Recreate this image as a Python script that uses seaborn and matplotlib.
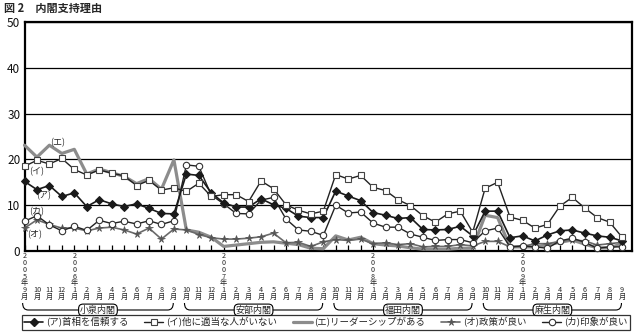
import matplotlib
matplotlib.use("Agg")
import numpy as np
import pandas as pd
import matplotlib.pyplot as plt
import seaborn as sns
from matplotlib.lines import Line2D
from matplotlib.path import Path
from matplotlib.patches import PathPatch
from matplotlib import transforms

# ---- data: monthly survey, 2005/9 - 2009/9 (percent) ----
start_year = 2005
months = [9, 10, 11, 12] + list(range(1, 13)) * 3 + list(range(1, 10))

trust_pm = [15.2, 13.4, 14.3, 11.9, 12.7, 9.7, 11.2, 10.3, 9.7, 10.3, 9.3, 8.2, 8.1,
            16.8, 16.5, 12.7, 10.5, 9.6, 9.6, 11.4, 10.1, 9.3, 7.6, 7.3, 7.3,
            13.1, 12.0, 11.0, 8.4, 7.8, 7.1, 7.3, 4.7, 4.6, 4.7, 5.4, 3.3,
            8.7, 8.7, 2.9, 3.3, 2.2, 3.5, 4.4, 4.6, 3.9, 3.3, 3.0, 2.2]
no_one_else = [18.5, 19.8, 19.0, 20.2, 17.8, 16.6, 17.7, 17.0, 16.4, 14.3, 15.4, 13.3, 13.8,
               13.0, 14.8, 11.9, 12.3, 12.3, 10.8, 15.3, 13.6, 10.1, 8.9, 8.1, 8.7,
               16.7, 15.7, 16.5, 13.9, 13.2, 11.2, 9.9, 7.7, 6.3, 8.1, 8.7, 4.1,
               13.7, 15.0, 7.4, 6.7, 5.0, 5.8, 9.8, 11.7, 9.4, 7.3, 6.3, 3.0]
leadership = [23.1, 20.5, 23.1, 21.3, 22.2, 16.8, 17.9, 17.1, 16.3, 14.7, 15.8, 13.5, 19.9,
              4.6, 4.1, 3.0, 1.0, 1.3, 1.6, 1.9, 2.0, 1.7, 1.4, 0.6, 0.5,
              3.3, 2.4, 3.0, 1.6, 1.3, 1.1, 0.7, 0.4, 0.4, 0.4, 0.6, 0.6,
              7.8, 7.3, 0.9, 0.9, 0.9, 1.3, 1.9, 2.4, 1.5, 0.7, 0.7, 1.6]
good_policy = [5.0, 6.8, 5.8, 5.0, 5.0, 4.4, 5.0, 5.2, 4.6, 3.7, 5.0, 2.6, 4.8,
               4.6, 3.6, 2.9, 2.6, 2.6, 2.8, 3.1, 3.9, 1.8, 1.9, 1.0, 2.0,
               2.5, 2.3, 2.6, 1.6, 1.8, 1.4, 1.6, 0.9, 1.0, 1.0, 1.4, 1.1,
               2.1, 2.1, 0.9, 1.0, 1.6, 1.6, 2.1, 2.4, 2.2, 1.3, 1.6, 1.9]
good_image = [6.5, 7.7, 5.7, 4.4, 5.4, 4.5, 6.7, 6.0, 6.5, 5.9, 6.6, 5.8, 6.6,
              18.8, 18.5, 12.2, 10.3, 8.2, 8.1, 11.1, 11.7, 7.0, 4.6, 4.3, 3.4,
              10.0, 8.3, 8.5, 6.1, 5.2, 5.2, 3.7, 3.0, 2.3, 2.5, 2.5, 1.8,
              4.4, 5.0, 0.9, 1.1, 0.9, 0.6, 2.2, 2.8, 1.9, 0.6, 0.9, 0.9]

series_labels = ["(ア)首相を信頼する", "(イ)他に適当な人がいない", "(エ)リーダーシップがある",
                 "(オ)政策が良い", "(カ)印象が良い"]
cabinets = ["小泉内閣", "安部内閣", "福田内閣", "麻生内閣"]
cabinet_start = [0, 13, 25, 37]
cabinet_end = [12, 24, 36, 48]

# ---- figure ----
sns.set_style("white")
plt.rcParams["font.family"] = ["Noto Sans CJK JP", "DejaVu Sans"]

W, H = 641, 336
fig = plt.figure(figsize=(W / 100, H / 100), dpi=100)
ax = fig.add_axes([24.5 / W, 1 - 251 / H, (632 - 24.5) / W, (251 - 22) / H])

idx = np.arange(len(months))
df = pd.DataFrame({"m": idx, "ア": trust_pm, "イ": no_one_else, "エ": leadership,
                   "オ": good_policy, "カ": good_image})

styles = {
    "エ": dict(color="#8c8c8c", lw=2.3, marker=None),
    "オ": dict(color="#6a6a6a", lw=1.2, marker="*", markersize=5.5,
              markerfacecolor="#555555", markeredgecolor="#555555", markeredgewidth=0.5),
    "カ": dict(color="#222222", lw=1.0, marker="o", markersize=4.6,
              markerfacecolor="white", markeredgecolor="#333333", markeredgewidth=0.8),
    "ア": dict(color="#1a1a1a", lw=1.2, marker="D", markersize=3.8,
              markerfacecolor="#1a1a1a", markeredgecolor="#1a1a1a"),
    "イ": dict(color="#222222", lw=1.0, marker="s", markersize=4.6,
              markerfacecolor="white", markeredgecolor="#444444", markeredgewidth=0.8),
}
for key in ["エ", "オ", "カ", "ア", "イ"]:
    sns.lineplot(data=df, x="m", y=key, ax=ax, legend=False, clip_on=False,
                 zorder=3, **styles[key])

ax.set_xlim(0, (632 - 24.5) / 12.45)
ax.set_ylim(0, 50)
ax.set_xlabel("")
ax.set_ylabel("")
ax.set_xticks(idx)
ax.tick_params(axis="x", direction="in", length=4, width=0.9, color="black",
               labelbottom=False, bottom=True)
ax.set_yticks([0, 10, 20, 30, 40, 50])
ax.tick_params(axis="y", length=0, pad=3, labelsize=8.5, labelcolor="#111111")
ax.yaxis.grid(True, color="black", lw=0.9)
ax.xaxis.grid(False)
for s in ax.spines.values():
    s.set_color("black")
    s.set_linewidth(1.6)

# ---- series tags inside the plot ----
tag_pos = {"(エ)": (2.7, 23.6), "(イ)": (1.0, 17.3), "(ア)": (1.5, 12.0),
           "(カ)": (1.0, 8.6), "(オ)": (0.85, 3.5)}
for t, (tx, ty) in tag_pos.items():
    ax.text(tx, ty, t, fontsize=6.5, ha="center", va="center", zorder=4)

# ---- vertical month labels below the axis ----
xt = transforms.blended_transform_factory(ax.transData, fig.transFigure)
def fy(ypx):
    return 1 - ypx / H

year = start_year
for i, m in enumerate(months):
    if m == 1 and i > 0:
        year += 1
    lines = [str(m), "月"]
    if i == 0 or m == 1:
        lines = list(str(year)) + ["年"] + lines
    fig.text(i, fy(301), "\n".join(lines), transform=xt, fontsize=5.2,
             ha="center", va="bottom", linespacing=0.8)

# ---- cabinet braces ----
for name, s0, s1 in zip(cabinets, cabinet_start, cabinet_end):
    x0, x1 = s0 - 0.15, s1 - 0.05
    r = 0.45
    verts = [(x0, fy(303)), (x0, fy(310)), (x0 + r, fy(310)),
             (x1 - r, fy(310)), (x1, fy(310)), (x1, fy(303))]
    codes = [Path.MOVETO, Path.CURVE3, Path.CURVE3, Path.LINETO, Path.CURVE3, Path.CURVE3]
    fig.add_artist(PathPatch(Path(verts, codes), transform=xt, fill=False,
                             lw=0.8, edgecolor="black"))
    fig.text((x0 + x1) / 2, fy(310), name, transform=xt, fontsize=6.5,
             ha="center", va="center",
             bbox=dict(boxstyle="round,pad=0.15,rounding_size=0.5",
                       facecolor="white", edgecolor="black", lw=0.8))

# ---- legend ----
handles = [Line2D([], [], **styles[k]) for k in ["ア", "イ", "エ", "オ", "カ"]]
leg = fig.legend(handles, series_labels, loc="lower left",
                 bbox_to_anchor=(22 / W, 1 - 330 / H, 608 / W, 14 / H),
                 mode="expand", ncol=5, fontsize=6.8, frameon=True, fancybox=False,
                 borderaxespad=0, borderpad=0.25, handlelength=2.0, handletextpad=0.3,
                 columnspacing=1.0)
leg.get_frame().set_edgecolor("black")
leg.get_frame().set_linewidth(0.9)

# ---- title ----
fig.text(4 / W, fy(8), "図 2　内閣支持理由", fontsize=8, fontweight="bold",
         ha="left", va="center")

fig.savefig("out.png", dpi=100)
